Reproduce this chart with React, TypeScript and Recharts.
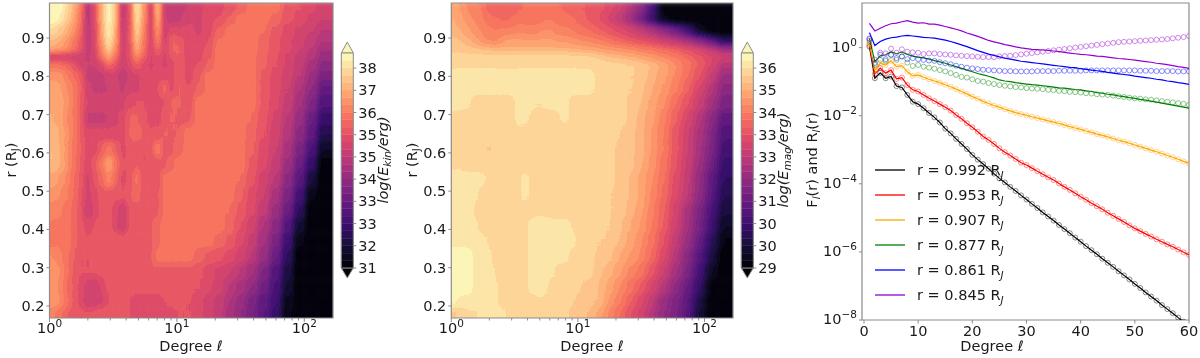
import React from 'react';
import { ComposedChart, XAxis, YAxis, Line, ReferenceArea, Label, Legend } from 'recharts';

const FONT = '"DejaVu Sans", sans-serif';
const INK = '#1a1a1a';
const FRAME = '#8c8c8c';

// Heat map grid: cell edges in degree and in radius
const degreeEdges = [0.75, 1.135, 1.288, 1.462, 1.659, 1.883, 2.137, 2.425, 2.752, 3.123, 3.545, 4.023, 4.565, 5.181, 5.88, 6.673, 7.573, 8.595, 9.754, 11.29, 13.55, 16.26, 19.5, 23.7, 28.8, 35.1, 43, 53.5, 66.7, 82.8, 103, 128, 230];
const radiusEdges = [1.03, 0.965, 0.935, 0.905, 0.88, 0.86, 0.84, 0.815, 0.785, 0.75, 0.71, 0.67, 0.63, 0.59, 0.55, 0.51, 0.47, 0.43, 0.39, 0.35, 0.31, 0.27, 0.23, 0.195, 0.13];

const kineticEnergy = [
  [38.6,38.2,37.6,37,36.1,34.4,35.3,36.9,38.3,37.1,34.6,35.5,37.9,36.6,35,37.2,34.9,34.6,34.7, 34.9,35.1,35.2,35.3,35.5,35.7,36,36,36,35.6,35.4,35.2,35],
  [38.2,37.9,37.4,36.8,36,34.4,35.3,36.9,38.3,37.1,34.6,35.5,37.8,36.5,35,37,34.9,34.7,34.8, 35.1,35.1,35.3,35.4,35.7,36,36,36,35.8,35.5,35.3,35.1,34.9],
  [37.6,37.3,37,36.5,35.8,34.5,35.2,36.8,38,36.9,34.7,35.5,37.5,36.3,35,36.6,34.9,35.3,35.2, 35.2,35.1,35.3,35.7,36,36,36,35.9,35.6,35.3,35.1,34.9,34.6],
  [37.1,36.9,36.6,36.1,35.6,34.6,35.2,36.6,37.8,36.7,34.8,35.5,37.2,36.1,35.1,36.2,35,35.7,35.6, 35.3,35.2,35.4,35.95,36,36,36,35.8,35.5,35.2,35,34.7,34.4],
  [36.8,36.7,36.4,36,35.5,34.7,35.1,36.3,37.4,36.4,34.9,35.4,36.9,36,35.1,35.8,35.1,35.7,35.7, 35.2,35.3,35.5,36,36,36,36,35.8,35.5,35.2,34.9,34.6,34.2],
  [34.9,34.9,34.9,34.9,34.9,34.8,35,36,36.8,36,34.9,35.4,36.3,35.7,35.1,35.4,35.1,35.5,35.7, 35.3,35.3,35.6,36,36,36,36,35.7,35.4,35.1,34.8,34.5,34],
  [36,36,35.8,35.5,35.1,34.9,34.9,35.2,35.8,35.4,34.9,35.2,35.6,35.3,35.1,35.2,35.1,35.2,35.7, 35.3,35.4,35.7,36,36,36,36,35.7,35.4,35.1,34.7,34.3,33.8],
  [36.6,36.5,36.2,35.9,35.6,34.8,34.7,34.8,35,35,34.6,35,35.1,35.2,35.2,35.2,35.3,35.2,35.7, 35.3,35.6,36,36,36,36,36,35.6,35.3,35,34.6,34.1,33.5],
  [36.7,36.7,36.4,36.1,35.7,35,34.8,34.8,34.9,35,34.8,35.1,35.1,35.2,35.2,35.4,35.8,35.3,35.7, 35.4,35.7,36,36,36,36,36,35.6,35.3,34.9,34.4,33.9,33.1],
  [36.8,36.8,36.5,36.1,35.6,35.1,35.1,35.1,35.1,35.1,35.1,35.3,35.4,35.4,35.3,35.3,35.4,35.7,35.7, 35.5,36,36,36,36,36,36,35.6,35.2,34.8,34.2,33.6,32.7],
  [36.9,36.8,36.4,36.1,35.6,34.8,34.8,34.8,34.9,35.1,35.2,35.7,35.7,35.5,35.3,35.3,35.5,35.7,35.6, 35.6,36,36,36,36,36,35.85,35.5,35.1,34.6,34,33.2,32.3],
  [37,36.9,36.5,36.1,35.6,35.2,35.2,35.2,35.2,35.2,35.3,35.7,35.8,35.6,35.4,35.5,35.7,35.6,35.7, 36,36,36,36,36,36,35.8,35.4,35,34.5,33.8,33,31.9],
  [37.1,36.9,36.5,36,35.7,35.2,35.3,35.7,36,35.7,35.3,35.5,35.6,35.4,35.5,36.1,35.5,35.6,35.8, 36,36,36,36,36,36,35.7,35.3,34.9,34.3,33.5,32.6,31.4],
  [37.1,36.9,36.5,36,35.6,35.2,35.6,36,36.7,36,35.4,35.4,35.7,35.4,35.4,35.6,35.6,35.8,36, 36,36,36,36,36,36,35.6,35.2,34.8,34.1,33.2,32.2,31],
  [36.8,36.6,36.3,35.9,35.6,35,35.5,35.8,36.3,35.8,35.3,35.5,36,35.5,35.4,35.5,36,36,36, 36,36,36,36,36,35.85,35.5,35,34.6,33.8,32.9,31.7,30.7],
  [36.5,36.4,36.2,35.9,35.5,35,35.3,35.5,35.6,35.5,35.4,35.6,35.8,35.5,35.5,35.6,36,36,36, 36,36,36,36,36,35.7,35.3,34.9,34.3,33.5,32.5,31.2,30.5],
  [36.2,36.2,36,35.8,35.5,34.8,35.2,35.5,35.5,35.3,34.9,35.5,35.6,35.5,35.6,35.6,36,36,36, 36,36,36,36,35.85,35.6,35.2,34.7,34.1,33.2,32.1,30.9,30.5],
  [36.1,36.1,36,35.8,35.5,35.3,35.4,35.6,35.6,35.2,34.9,35.5,35.6,35.6,35.6,35.8,36,36,36, 36,36,36,36,35.8,35.4,35,34.4,33.8,32.8,31.6,30.6,30.5],
  [36,36.1,36,35.8,35.5,35.4,35.5,35.6,35.6,35.6,35.5,35.6,35.6,35.6,35.6,35.8,36,36,36, 36,36,36,35.8,35.6,35.2,34.8,34.2,33.5,32.4,31.2,30.5,30.5],
  [36.4,36.2,36,35.7,35.4,35.4,35.5,35.6,35.6,35.6,35.6,35.6,35.6,35.6,35.6,36,36,36,36, 36,35.8,35.6,35.5,35.3,35,34.6,34,33.2,32.1,30.9,30.5,30.5],
  [36.6,36.4,36,35.6,35.4,35.4,35.4,35.5,35.6,35.6,35.6,35.6,35.6,35.6,35.6,35.6,35.6,35.6,35.6, 35.6,35.5,35.3,35.1,34.9,34.6,34.2,33.6,32.8,31.8,30.8,30.5,30.5],
  [36.6,36.3,35.9,35.6,35.3,35,34.9,35.2,35.5,35.6,35.6,35.6,35.6,35.6,35.6,35.6,35.6,35.6,35.5, 35.5,35.4,35.2,35,34.6,34.3,33.9,33.3,32.6,31.6,30.7,30.5,30.5],
  [36.6,36.4,36,35.6,35.3,34.9,34.9,35.1,35.4,35.5,35.5,35.4,35.2,35.2,35.2,35.2,35.4,35.5,35.5, 35.4,35.3,35,34.8,34.4,34,33.5,33,32.4,31.3,30.6,30.5,30.5],
  [36.2,36,35.7,35.5,35.5,35.4,35.5,35.6,35.6,35.5,35.4,35.4,35.3,35.3,35.3,35.3,35.2,35.3,35.4, 35.4,35.3,35,34.7,34.3,33.9,33.4,32.9,32.3,31.2,30.6,30.5,30.5],
];

const magneticEnergy = [
  [34.8,34.6,34.3,34.2,34.1,33.7,33.7,33.9,33.8,33.8,33.9,34,34,34,34,33.9,33.8,33.7,33.7, 33.6,33.5,33.3,33,32.5,31.8,30.6,29,28.8,28.8,28.8,28.8,28.8],
  [34.9,34.7,34.5,34.3,34.2,34,33.9,33.8,33.9,34,34,34,34,34.1,34.1,34,34,33.9,33.8, 33.6,33.4,33.1,32.7,32.1,31.3,30.3,29.2,28.8,28.8,28.8,28.8,28.8],
  [35,34.9,34.7,34.5,34.3,34.2,34.1,34.2,34.2,34.3,34.3,34.2,34.3,34.4,34.4,34.2,34.2,34.1,34, 33.9,33.7,33.5,33.3,33,32.7,32.3,31.8,31.2,30.4,29.4,28.8,28.8],
  [35.2,35.1,35,34.8,34.5,34.3,34.3,34.6,34.7,34.7,34.7,34.7,34.7,34.7,34.7,34.6,34.6,34.5,34.4, 34.3,34.2,34,33.8,33.6,33.4,33.2,32.9,32.6,32.2,31.7,31,30],
  [35.3,35.3,35.2,35.2,35.1,35.1,35,35,35,35,35,35,35,35,35,35,35,34.9,34.9, 34.8,34.7,34.6,34.5,34.4,34.2,34.1,33.9,33.7,33.4,33.1,32.7,32.2],
  [35.5,35.5,35.5,35.5,35.5,35.5,35.5,35.5,35.5,35.5,35.5,35.5,35.5,35.5,35.5,35.5,35.5,35.5,35.5, 35.5,35.3,35.1,35,34.9,34.7,34.5,34.3,34.1,33.8,33.5,33.2,33],
  [35.6,35.6,35.6,35.6,35.6,35.6,35.6,35.6,35.6,35.6,35.6,35.6,35.6,35.6,35.6,35.6,35.6,35.6,35.6, 35.6,35.6,35.5,35.5,35.4,35.3,35.1,34.8,34.4,34,33.6,33.1,32.5],
  [35.75,35.75,35.75,35.75,35.75,35.75,35.75,35.75,35.75,35.75,35.75,35.75,35.75,35.75,35.75,35.75,35.75,35.75,35.75, 35.75,35.6,35.5,35.5,35.4,35.3,35,34.7,34.3,33.9,33.4,32.8,32.1],
  [35.75,35.75,35.75,35.75,35.75,35.75,35.75,35.75,35.75,35.75,35.75,35.75,35.75,35.75,35.75,35.75,35.75,35.75,35.75, 35.75,35.6,35.5,35.5,35.4,35.2,34.9,34.6,34.2,33.7,33.1,32.5,31.8],
  [35.75,35.75,35.7,35.5,35.5,35.5,35.5,35.5,35.5,35.75,35.75,35.75,35.6,35.7,35.75,35.75,35.75,35.5,35.5, 35.5,35.5,35.5,35.5,35.3,35.1,34.8,34.4,33.9,33.4,32.8,32.2,31.5],
  [35.6,35.5,35.5,35.5,35.5,35.5,35.5,35.5,35.5,35.75,35.75,35.6,35.5,35.5,35.5,35.6,35.75,35.5,35.5, 35.5,35.5,35.5,35.5,35.3,35,34.7,34.2,33.7,33.1,32.5,31.8,31],
  [35.5,35.5,35.5,35.5,35.5,35.5,35.5,35.5,35.5,35.5,35.5,35.5,35.5,35.5,35.5,35.5,35.5,35.5,35.5, 35.5,35.5,35.5,35.4,35.2,35,34.6,34.1,33.5,32.9,32.3,31.6,30.7],
  [35.5,35.5,35.5,35.5,35.5,35.3,35.5,35.5,35.5,35.5,35.5,35.5,35.5,35.5,35.5,35.5,35.5,35.5,35.5, 35.5,35.5,35.5,35.3,35.2,35,34.6,34.1,33.5,32.9,32.2,31.5,30.5],
  [35.6,35.6,35.5,35.5,35.5,35.5,35.5,35.5,35.5,35.5,35.5,35.5,35.5,35.5,35.5,35.5,35.5,35.5,35.5, 35.5,35.5,35.5,35.3,35.2,34.9,34.5,34,33.4,32.8,32.1,31.3,30.3],
  [35.75,35.75,35.75,35.75,35.7,35.6,35.5,35.5,35.5,35.5,35.75,35.6,35.5,35.5,35.5,35.5,35.5,35.5,35.5, 35.5,35.5,35.5,35.3,35.1,34.8,34.4,33.9,33.3,32.7,31.9,31,30.1],
  [35.75,35.75,35.75,35.7,35.5,35.5,35.5,35.5,35.5,35.5,35.75,35.6,35.5,35.5,35.5,35.5,35.5,35.5,35.5, 35.5,35.5,35.4,35.3,35.1,34.8,34.3,33.8,33.2,32.6,31.8,30.9,29.9],
  [35.75,35.75,35.75,35.6,35.5,35.5,35.5,35.5,35.5,35.5,35.5,35.5,35.6,35.6,35.5,35.5,35.5,35.5,35.5, 35.5,35.5,35.4,35.3,35,34.7,34.2,33.7,33,32.3,31.5,30.6,29.7],
  [35.75,35.75,35.75,35.7,35.5,35.5,35.5,35.5,35.5,35.5,35.5,35.75,35.75,35.75,35.75,35.75,35.75,35.6,35.5, 35.5,35.5,35.4,35.2,34.9,34.6,34.1,33.6,32.9,32.2,31.4,30.4,29.4],
  [35.75,35.75,35.75,35.75,35.75,35.6,35.5,35.5,35.5,35.5,35.5,35.75,35.75,35.75,35.75,35.75,35.75,35.75,35.5, 35.5,35.4,35.3,35.1,34.8,34.4,34,33.4,32.7,32,31.1,30.1,29.1],
  [36.2,36.2,36.1,35.75,35.75,35.7,35.5,35.5,35.5,35.5,35.5,35.75,35.75,35.75,35.75,35.75,35.75,35.5,35.5, 35.5,35.3,35.2,34.9,34.6,34.3,33.8,33.2,32.5,31.7,30.8,29.8,28.8],
  [36.3,36.3,36.2,35.75,35.75,35.75,35.6,35.5,35.5,35.5,35.5,35.75,35.75,35.75,35.75,35.5,35.5,35.5,35.5, 35.5,35.2,35,34.7,34.3,34,33.5,32.9,32.2,31.5,30.5,29.4,28.8],
  [36.3,36.3,36.2,35.75,35.75,35.75,35.7,35.5,35.5,35.5,35.5,35.75,35.75,35.75,35.5,35.5,35.5,35.5,35.4, 35.3,35.1,34.8,34.4,34,33.6,33.1,32.5,31.8,31.1,30.2,29,28.8],
  [36,35.75,35.75,35.75,35.75,35.75,35.7,35.5,35.5,35.5,35.5,35.5,35.6,35.6,35.5,35.5,35.5,35.4,35.3, 35.2,35.1,34.6,34.2,33.7,33.2,32.7,32,31.5,30.9,29.8,28.8,28.8],
  [35.3,35.5,35.6,35.6,35.75,35.75,35.75,35.7,35.5,35.5,35.5,35.5,35.5,35.5,35.5,35.5,35.5,35.2,35.2, 35.1,34.8,34.3,33.9,33.4,33,32.5,31.9,31.4,30.8,29.6,28.8,28.8],
];

// Radial spectra, log10 of the value, one value per degree 1..60
const fluxBlack = [0.03,-0.9,-0.74,-0.9,-0.85,-1.13,-1.17,-1.39,-1.59,-1.66,-1.78,-1.92,-2.05,-2.2,-2.38,-2.52,-2.68,-2.83,-2.98,-3.15,-3.29,-3.42,-3.56,-3.7,-3.84,-3.96,-4.09,-4.21,-4.34,-4.46,-4.59,-4.71,-4.84,-4.96,-5.08,-5.21,-5.33,-5.45,-5.58,-5.7,-5.83,-5.95,-6.07,-6.2,-6.32,-6.44,-6.57,-6.69,-6.81,-6.94,-7.06,-7.19,-7.31,-7.43,-7.56,-7.68,-7.8,-7.93,-8.05,-8.18];
const fluxRed = [0.08,-0.77,-0.6,-0.75,-0.66,-0.92,-0.88,-1.1,-1.24,-1.29,-1.39,-1.49,-1.57,-1.66,-1.75,-1.85,-1.98,-2.09,-2.22,-2.34,-2.47,-2.61,-2.71,-2.83,-2.96,-3.07,-3.17,-3.27,-3.38,-3.45,-3.54,-3.63,-3.72,-3.81,-3.89,-3.99,-4.09,-4.18,-4.28,-4.38,-4.47,-4.57,-4.66,-4.75,-4.85,-4.94,-5.03,-5.12,-5.22,-5.31,-5.39,-5.47,-5.55,-5.63,-5.7,-5.78,-5.85,-5.93,-6.01,-6.09];
const fluxOrange = [0.13,-0.66,-0.46,-0.51,-0.39,-0.56,-0.53,-0.71,-0.83,-0.8,-0.87,-0.93,-0.98,-1.03,-1.09,-1.15,-1.22,-1.29,-1.36,-1.44,-1.5,-1.58,-1.64,-1.7,-1.75,-1.81,-1.86,-1.91,-1.95,-1.99,-2.03,-2.07,-2.11,-2.15,-2.19,-2.23,-2.27,-2.32,-2.36,-2.4,-2.45,-2.49,-2.54,-2.58,-2.62,-2.67,-2.72,-2.76,-2.81,-2.86,-2.91,-2.96,-3.01,-3.06,-3.11,-3.17,-3.22,-3.28,-3.34,-3.4];
const fluxGreen = [0.27,-0.41,-0.24,-0.21,-0.12,-0.18,-0.13,-0.2,-0.25,-0.28,-0.3,-0.34,-0.38,-0.42,-0.46,-0.51,-0.56,-0.61,-0.66,-0.71,-0.76,-0.8,-0.84,-0.89,-0.95,-0.98,-1,-1.03,-1.05,-1.07,-1.09,-1.1,-1.12,-1.14,-1.16,-1.18,-1.19,-1.21,-1.23,-1.24,-1.27,-1.29,-1.32,-1.34,-1.37,-1.39,-1.42,-1.44,-1.47,-1.49,-1.52,-1.54,-1.57,-1.6,-1.63,-1.66,-1.69,-1.72,-1.75,-1.78];
const fluxBlue = [0.44,0.06,0.18,0.25,0.29,0.31,0.34,0.36,0.34,0.32,0.3,0.29,0.28,0.25,0.22,0.18,0.13,0.08,0.03,-0.03,-0.09,-0.14,-0.19,-0.23,-0.27,-0.31,-0.34,-0.37,-0.4,-0.42,-0.44,-0.46,-0.48,-0.5,-0.52,-0.54,-0.56,-0.58,-0.59,-0.62,-0.64,-0.66,-0.68,-0.7,-0.73,-0.75,-0.77,-0.79,-0.81,-0.84,-0.86,-0.88,-0.9,-0.93,-0.95,-0.98,-1,-1.03,-1.05,-1.08];
const fluxPurple = [0.71,0.49,0.57,0.64,0.7,0.72,0.76,0.79,0.75,0.72,0.73,0.69,0.69,0.66,0.62,0.58,0.54,0.49,0.43,0.38,0.33,0.27,0.21,0.17,0.13,0.09,0.06,0.02,-0.01,-0.03,-0.05,-0.06,-0.07,-0.08,-0.1,-0.12,-0.14,-0.16,-0.18,-0.2,-0.21,-0.23,-0.25,-0.26,-0.28,-0.3,-0.32,-0.33,-0.35,-0.37,-0.39,-0.41,-0.43,-0.46,-0.48,-0.5,-0.53,-0.56,-0.58,-0.61];

const ratioGreen = [0.2,-0.5,-0.36,-0.39,-0.22,-0.36,-0.26,-0.44,-0.54,-0.51,-0.56,-0.59,-0.62,-0.66,-0.7,-0.75,-0.8,-0.86,-0.88,-0.93,-0.98,-1,-1.04,-1.07,-1.1,-1.12,-1.14,-1.16,-1.17,-1.19,-1.2,-1.21,-1.22,-1.24,-1.25,-1.27,-1.28,-1.3,-1.31,-1.32,-1.34,-1.35,-1.37,-1.38,-1.39,-1.41,-1.43,-1.45,-1.47,-1.49,-1.5,-1.52,-1.53,-1.55,-1.57,-1.59,-1.61,-1.63,-1.65,-1.68];
const ratioBlue = [0.25,-0.45,-0.21,-0.34,-0.21,-0.31,-0.26,-0.34,-0.31,-0.34,-0.36,-0.38,-0.39,-0.43,-0.46,-0.49,-0.53,-0.56,-0.59,-0.61,-0.63,-0.65,-0.66,-0.67,-0.68,-0.69,-0.69,-0.7,-0.7,-0.7,-0.7,-0.69,-0.69,-0.69,-0.69,-0.68,-0.68,-0.68,-0.68,-0.68,-0.67,-0.67,-0.67,-0.67,-0.67,-0.67,-0.67,-0.67,-0.67,-0.67,-0.68,-0.68,-0.68,-0.69,-0.69,-0.69,-0.69,-0.7,-0.7,-0.7];
const ratioPurple = [0.27,-0.35,-0.15,-0.17,-0.03,-0.15,-0.05,-0.12,-0.14,-0.15,-0.19,-0.17,-0.17,-0.19,-0.2,-0.21,-0.23,-0.24,-0.25,-0.26,-0.27,-0.28,-0.28,-0.28,-0.26,-0.25,-0.24,-0.22,-0.2,-0.18,-0.16,-0.14,-0.12,-0.1,-0.08,-0.06,-0.04,-0.02,0,0.02,0.04,0.06,0.08,0.1,0.12,0.14,0.16,0.17,0.18,0.19,0.2,0.21,0.22,0.23,0.24,0.25,0.27,0.29,0.31,0.34];

const seriesList = [
  { key: 'a', name: '0.992', color: '#000000', flux: fluxBlack, ratio: fluxBlack },
  { key: 'b', name: '0.953', color: '#ff0000', flux: fluxRed, ratio: fluxRed },
  { key: 'c', name: '0.907', color: '#ffa500', flux: fluxOrange, ratio: fluxOrange },
  { key: 'd', name: '0.877', color: '#008000', flux: fluxGreen, ratio: ratioGreen },
  { key: 'e', name: '0.861', color: '#0000ff', flux: fluxBlue, ratio: ratioBlue },
  { key: 'f', name: '0.845', color: '#9400d3', flux: fluxPurple, ratio: ratioPurple },
];
const spectraTable = fluxBlack.map((_, i) => {
  const row: Record<string, number> = { degree: i + 1 };
  seriesList.forEach((s) => { row['F' + s.key] = s.flux[i]; row['R' + s.key] = s.ratio[i]; });
  return row;
});

const radiusTicks = [0.2, 0.3, 0.4, 0.5, 0.6, 0.7, 0.8, 0.9];
const degreeLogTicks = [1, 2, 3, 4, 5, 6, 7, 8, 9, 10, 20, 30, 40, 50, 60, 70, 80, 90, 100];
const degreeLinTicks = [0, 10, 20, 30, 40, 50, 60];
const exponentTicks = [-8, -6, -4, -2, 0];
const kinBarLabels = ['31', '32', '33', '33', '34', '35', '35', '36', '37', '38'];
const magBarLabels = ['29', '30', '30', '31', '32', '33', '33', '34', '35', '36'];

// Colour scale
const magmaStops = ['#000004', '#140e36', '#3b0f70', '#641a80', '#8c2981', '#b73779', '#de4968', '#f7705c', '#fe9f6d', '#fecf92', '#fcfdbf'];
const BANDS = 29;
const SPAN = 7.26;
const BLOCK = 0.75;
const CENTER = 0.125;
const hex = (s: string) => [1, 3, 5].map((i) => parseInt(s.slice(i, i + 2), 16));
const magma = (t: number) => {
  const p = Math.min(Math.max(t, 0), 0.9999) * 10;
  const i = Math.floor(p);
  const a = hex(magmaStops[i]);
  const b = hex(magmaStops[i + 1]);
  return a.map((v, k) => v + (b[k] - v) * (p - i));
};
const bandColors = Array.from({ length: BANDS }, (_, i) => magma((i + 0.5) / BANDS));
const css = (c: number[]) => `rgb(${c.map(Math.round).join(',')})`;
const table = (k: number) => bandColors.map((c) => (c[k] / 255).toFixed(3)).join(' ');

const tickText = { fontFamily: FONT, fontSize: 14.5, fill: INK };

const LogTick = ({ x, y, payload }: any) => {
  const e = Math.log10(payload.value);
  const major = Math.abs(e - Math.round(e)) < 1e-6;
  return (
    <g>
      <line x1={x} x2={x} y1={y} y2={y + (major ? 4 : 2.5)} stroke={FRAME} />
      {major && (
        <text x={x} y={y + 15} textAnchor="middle" {...tickText}>
          10<tspan dy={-6} fontSize={10.5}>{Math.round(e)}</tspan>
        </text>
      )}
    </g>
  );
};
const RadiusTick = ({ x, y, payload }: any) => (
  <g>
    <line x1={x - 3} x2={x} y1={y} y2={y} stroke={FRAME} />
    <text x={x - 5} y={y + 5} textAnchor="end" {...tickText}>{payload.value.toFixed(1)}</text>
  </g>
);
const LinTick = ({ x, y, payload }: any) => (
  <g>
    <line x1={x} x2={x} y1={y} y2={y + 3.5} stroke={FRAME} />
    <text x={x} y={y + 16} textAnchor="middle" {...tickText}>{payload.value}</text>
  </g>
);
const PowerTick = ({ x, y, payload }: any) => (
  <g>
    <line x1={x - 3} x2={x} y1={y} y2={y} stroke={FRAME} />
    <text x={x - 5} y={y + 4} textAnchor="end" {...tickText}>
      10<tspan dy={-6} fontSize={10.5}>{payload.value === 0 ? '0' : '\u2212' + Math.abs(payload.value)}</tspan>
    </text>
  </g>
);

const DegreeLabel = (x: number) => () => (
  <text x={x} y={351} textAnchor="middle" {...tickText}>
    Degree <tspan fontStyle="italic">ℓ</tspan>
  </text>
);
const RadiusLabel = (x: number) => () => (
  <text transform={`translate(${x},160) rotate(-90)`} textAnchor="middle" {...tickText}>
    r (R<tspan dy={3} fontSize={10.5}>J</tspan><tspan dy={-3}>)</tspan>
  </text>
);
const SpectraLabel = () => (
  <text transform="translate(17,160) rotate(-90)" textAnchor="middle" {...tickText}>
    F<tspan dy={3} fontSize={10.5} fontStyle="italic">l</tspan><tspan dy={-3}>(r) and R</tspan>
    <tspan dy={3} fontSize={10.5} fontStyle="italic">l</tspan><tspan dy={-3}>(r)</tspan>
  </text>
);

type HeatProps = { left: number; plotLeft: number; plotWidth: number; field: number[][]; floor: number; filterId: string; labelX: number; degreeX: number };

const Heat = ({ left, plotLeft, plotWidth, field, floor, filterId, labelX, degreeX }: HeatProps) => {
  const margin = { top: 3, left: plotLeft, right: 400 - plotLeft - plotWidth, bottom: 40 };
  const xProps = { type: 'number' as const, scale: 'log' as const, domain: [1, 168], dataKey: 'x', allowDataOverflow: true };
  const yProps = { type: 'number' as const, domain: [0.1686, 0.9916], allowDataOverflow: true };
  const cells: React.ReactNode[] = [];
  field.forEach((row, j) => row.forEach((v, i) => {
    const g = Math.round(255 * Math.min(Math.max((v + CENTER - floor) / SPAN, 0), 1));
    const c = `rgb(${g},${g},${g})`;
    cells.push(
      <ReferenceArea key={`${i}-${j}`} x1={degreeEdges[i]} x2={degreeEdges[i + 1]} y1={radiusEdges[j + 1]} y2={radiusEdges[j]} fill={c} fillOpacity={1} stroke={c} strokeWidth={0.6} ifOverflow="visible" />
    );
  }));
  return (
    <>
      <div style={{ position: 'absolute', left: left + plotLeft, top: 3, width: plotWidth, height: 315, overflow: 'hidden' }}>
        <div style={{ position: 'absolute', left: -plotLeft, top: -3, width: 400, height: 358, filter: `url(#${filterId})` }}>
          <ComposedChart width={400} height={358} margin={margin} data={[{ x: 1 }, { x: 168 }]}>
            <XAxis hide {...xProps} />
            <YAxis hide {...yProps} />
            {cells}
          </ComposedChart>
        </div>
      </div>
      <div style={{ position: 'absolute', left, top: 0 }}>
        <ComposedChart width={400} height={358} margin={{ top: 3, left: 0, right: margin.right, bottom: 0 }} data={[{ x: 1 }, { x: 168 }]}>
          <XAxis {...xProps} height={40} ticks={degreeLogTicks} interval={0} tick={<LogTick />} tickSize={0} tickMargin={0} axisLine={false} tickLine={false}>
            <Label content={DegreeLabel(degreeX)} />
          </XAxis>
          <YAxis {...yProps} width={plotLeft} ticks={radiusTicks} interval={0} tick={<RadiusTick />} tickSize={0} tickMargin={0} axisLine={false} tickLine={false}>
            <Label content={RadiusLabel(labelX)} />
          </YAxis>
          <ReferenceArea x1={1} x2={168} y1={0.1686} y2={0.9916} fill="none" stroke={FRAME} strokeWidth={1.2} />
        </ComposedChart>
      </div>
    </>
  );
};

const BarTick = ({ x, y, payload, labels, ticks }: any) => (
  <g>
    <line x1={x} x2={x + 3} y1={y} y2={y} stroke={FRAME} />
    <text x={x + 5} y={y + 5} {...tickText}>{labels[ticks.indexOf(payload.value)]}</text>
  </g>
);

const ColorBar = ({ left, floor, labels, sub }: { left: number; floor: number; labels: string[]; sub: string }) => {
  const ticks = labels.map((_, i) => floor + BLOCK * i);
  const lo = floor - 0.338;
  const hi = floor + SPAN + 0.371;
  const tri = (up: boolean, c: string) => (p: any) => {
    const { x, y, width: w, height: h } = p;
    const d = up
      ? `M${x},${y + h} L${x + w / 2},${y} L${x + w},${y + h}`
      : `M${x},${y} L${x + w / 2},${y + h} L${x + w},${y}`;
    return <path d={d + ' Z'} fill={c} stroke={FRAME} strokeWidth={1} />;
  };
  return (
    <div style={{ position: 'absolute', left, top: 0 }}>
      <ComposedChart width={65} height={358} margin={{ top: 42, left: 6.3, right: 0, bottom: 80 }} data={[{ x: 0 }, { x: 1 }]}>
        <XAxis hide type="number" dataKey="x" domain={[0, 1]} />
        <YAxis orientation="right" type="number" width={46.7} domain={[lo, hi]} ticks={ticks} interval={0} allowDataOverflow tick={<BarTick labels={labels} ticks={ticks} />} tickSize={0} tickMargin={0} axisLine={false} tickLine={false}>
          <Label content={() => (
            <text transform="translate(52.5,160) rotate(-90)" textAnchor="middle" {...tickText} fontStyle="italic">
              log(E<tspan dy={3} fontSize={10.5}>{sub}</tspan><tspan dy={-3}>/erg)</tspan>
            </text>
          )} />
        </YAxis>
        <ReferenceArea x1={0} x2={1} y1={floor + SPAN} y2={hi} shape={tri(true, css(bandColors[BANDS - 1]))} />
        <ReferenceArea x1={0} x2={1} y1={lo} y2={floor} shape={tri(false, css(bandColors[0]))} />
        {bandColors.map((c, i) => (
          <ReferenceArea key={i} x1={0} x2={1} y1={floor + (SPAN * i) / BANDS} y2={floor + (SPAN * (i + 1)) / BANDS} fill={css(c)} fillOpacity={1} stroke={css(c)} strokeWidth={0.4} />
        ))}
        <ReferenceArea x1={0} x2={1} y1={floor} y2={floor + SPAN} fill="none" stroke={FRAME} strokeWidth={1} />
      </ComposedChart>
    </div>
  );
};

const LegendBox = () => (
  <div style={{ fontFamily: FONT, fontSize: 14.5, color: INK }}>
    {seriesList.map((s) => (
      <div key={s.key} style={{ display: 'flex', alignItems: 'center', height: 25.1 }}>
        <svg width={30} height={4} style={{ marginRight: 12 }}>
          <line x1={0} x2={30} y1={2} y2={2} stroke={s.color} strokeWidth={1.3} />
        </svg>
        <span>r = {s.name} R<sub style={{ fontSize: 10.5, lineHeight: 0, fontStyle: 'italic' }}>J</sub></span>
      </div>
    ))}
  </div>
);

const Spectra = () => (
  <div style={{ position: 'absolute', left: 800, top: 0 }}>
    <ComposedChart width={400} height={358} margin={{ top: 3, left: 0, right: 11, bottom: 0 }} data={spectraTable}>
      <XAxis dataKey="degree" type="number" domain={[-0.37, 60]} allowDataOverflow height={38} ticks={degreeLinTicks} interval={0} tick={<LinTick />} tickSize={0} tickMargin={0} axisLine={false} tickLine={false}>
        <Label content={DegreeLabel(192)} />
      </XAxis>
      <YAxis type="number" domain={[-8, 1.31]} allowDataOverflow width={62} ticks={exponentTicks} interval={0} tick={<PowerTick />} tickSize={0} tickMargin={0} axisLine={false} tickLine={false}>
        <Label content={SpectraLabel} />
      </YAxis>
      {seriesList.map((s) => (
        <Line key={'R' + s.key} dataKey={'R' + s.key} legendType="none" isAnimationActive={false} stroke="none" strokeWidth={0}
          dot={{ r: 2.5, fill: 'none', stroke: s.color, strokeOpacity: 0.45, strokeWidth: 1 }} activeDot={false} />
      ))}
      {seriesList.map((s) => (
        <Line key={'F' + s.key} dataKey={'F' + s.key} name={s.name} isAnimationActive={false} stroke={s.color} strokeWidth={1.2} dot={false} activeDot={false} />
      ))}
      <ReferenceArea x1={-0.37} x2={60} y1={-8} y2={1.31} fill="none" stroke={FRAME} strokeWidth={1.2} />
      <Legend layout="vertical" align="center" verticalAlign="middle" content={<LegendBox />} wrapperStyle={{ left: 75, top: 157, width: 240 }} />
    </ComposedChart>
  </div>
);

const Filters = () => (
  <svg width={0} height={0} style={{ position: 'absolute' }}>
    <defs>
      {['contourA', 'contourB'].map((id) => (
        <filter key={id} id={id} x="0" y="0" width="100%" height="100%" colorInterpolationFilters="sRGB">
          <feGaussianBlur stdDeviation={id === 'contourA' ? '2.6 3.2' : '3.8 3.6'} />
          <feComponentTransfer>
            <feFuncR type="discrete" tableValues={table(0)} />
            <feFuncG type="discrete" tableValues={table(1)} />
            <feFuncB type="discrete" tableValues={table(2)} />
          </feComponentTransfer>
          <feGaussianBlur stdDeviation="0.7" />
        </filter>
      ))}
    </defs>
  </svg>
);

export default function App() {
  return (
    <div style={{ position: 'absolute', left: 0, top: 0, width: 1200, height: 358, background: '#fff', overflow: 'hidden' }}>
      <Filters />
      <div style={{ position: 'absolute', left: 0, top: 0, width: 1200, height: 358, filter: 'blur(0.45px)' }}>
        <Heat left={0} plotLeft={49.5} plotWidth={283.5} field={kineticEnergy} floor={31} filterId="contourA" labelX={16} degreeX={191} />
        <ColorBar left={335} floor={31} labels={kinBarLabels} sub="kin" />
        <Heat left={400} plotLeft={51.3} plotWidth={281.7} field={magneticEnergy} floor={29} filterId="contourB" labelX={17} degreeX={192} />
        <ColorBar left={735} floor={29} labels={magBarLabels} sub="mag" />
        <Spectra />
      </div>
    </div>
  );
}
